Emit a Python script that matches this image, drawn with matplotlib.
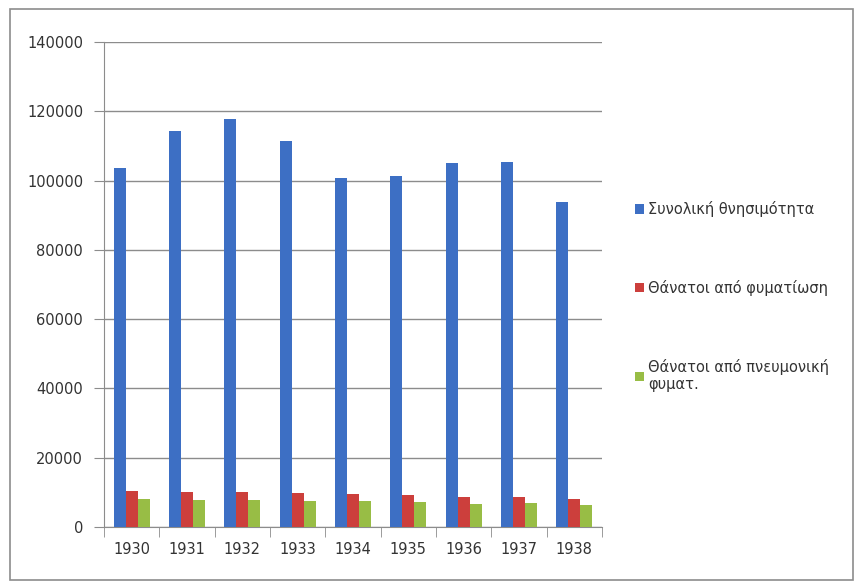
import numpy as np
import matplotlib.pyplot as plt
from matplotlib.patches import Rectangle

plt.rcParams['font.family'] = ['DejaVu Sans']

years = ['1930', '1931', '1932', '1933', '1934', '1935', '1936', '1937', '1938']
total = [103700, 114300, 117700, 111400, 100800, 101400, 105200, 105500, 93800]
tb = [10500, 10200, 10200, 9900, 9400, 9200, 8700, 8700, 8100]
lung_tb = [8100, 7900, 7900, 7600, 7600, 7200, 6700, 6900, 6300]
labels = ['Συνολική θνησιμότητα', 'Θάνατοι από φυματίωση',
          'Θάνατοι από πνευμονική\nφυματ.']
colours = ['#3D6FC4', '#CC3F3C', '#98BD45']

fig = plt.figure(figsize=(8.63, 5.87), dpi=100)
fig.patches.append(Rectangle((0.012, 0.012), 0.976, 0.972, transform=fig.transFigure,
                             fill=False, edgecolor='#8c8c8c', lw=1.2))
ax = fig.add_axes((104 / 863, 60 / 587, 498 / 863, 485 / 587))

x = np.arange(len(years))
w = 0.215
for i, (vals, c, lab) in enumerate(zip([total, tb, lung_tb], colours, labels)):
    ax.bar(x + (i - 1) * w, vals, width=w, color=c, label=lab, zorder=3)

ax.set_xlim(-0.5, len(years) - 0.5)
ax.set_ylim(0, 140000)
ax.set_yticks(np.arange(0, 140001, 20000))
ax.set_xticks(x)
ax.set_xticklabels(years)
ax.set_xticks(np.arange(-0.5, len(years), 1), minor=True)
ax.tick_params(axis='x', which='major', length=0, pad=11, labelsize=10.5, colors='#333333')
ax.tick_params(axis='x', which='minor', length=7, color='#8c8c8c', direction='out')
ax.tick_params(axis='y', length=7, color='#8c8c8c', labelsize=10.5, labelcolor='#333333', pad=8)
ax.grid(axis='y', color='#8c8c8c', lw=1, zorder=0)
for s in ['top', 'right']:
    ax.spines[s].set_visible(False)
ax.spines['left'].set_color('#8c8c8c')
ax.spines['bottom'].set_color('#8c8c8c')

ax.legend(loc='center left', bbox_to_anchor=(1.04, 0.475), frameon=False,
          fontsize=10.5, handlelength=0.6, handleheight=0.6, handletextpad=0.3,
          labelspacing=4.3, labelcolor='#333333')

fig.savefig('out.png', dpi=100)
